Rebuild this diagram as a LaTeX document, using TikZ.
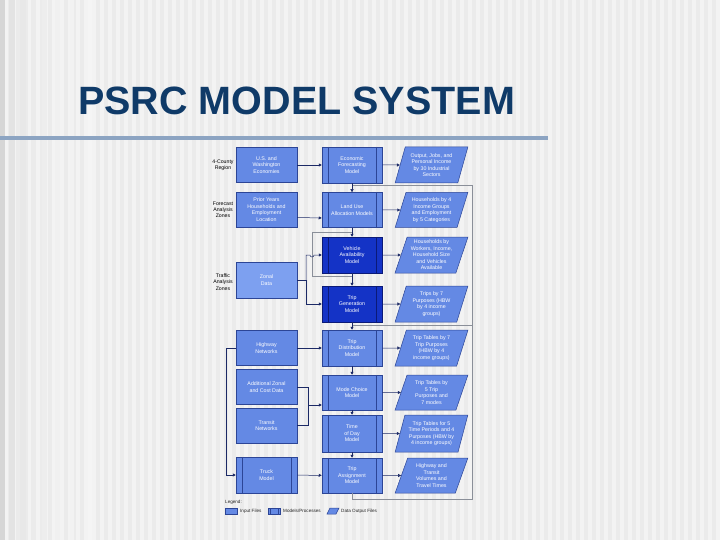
\documentclass[tikz,border=0pt]{standalone}
\usepackage{fontspec}
\setmainfont{Liberation Sans}
\usetikzlibrary{arrows.meta,shapes.geometric,calc}
\definecolor{bgbase}{HTML}{F3F3F3}
\definecolor{bgstripe}{HTML}{EBEBEB}
\definecolor{titleblue}{HTML}{0F3A68}
\definecolor{barblue}{HTML}{8CA4C2}
\definecolor{boxfill}{HTML}{6489E4}
\definecolor{boxline}{HTML}{2C4596}
\definecolor{darkfill}{HTML}{1433C6}
\definecolor{darkline}{HTML}{0B1A78}
\definecolor{zonalfill}{HTML}{7DA0F0}
\definecolor{arrowcol}{HTML}{1C2A66}
\definecolor{loopcol}{HTML}{8A8F99}
\begin{document}
\begin{tikzpicture}[x=1pt,y=-1pt,
  txt/.style={font=\fontsize{5.3}{6.5}\selectfont, text=white, align=center, inner sep=0pt},
  lbl/.style={font=\fontsize{5.2}{6.2}\selectfont, text=black, align=center, inner sep=0pt},
  leglbl/.style={font=\fontsize{4.6}{5.6}\selectfont, text=black!85, inner sep=0pt},
  inputbox/.style={txt, draw=boxline, fill=boxfill, line width=0.5pt, minimum width=61pt, minimum height=35pt},
  zonalbox/.style={inputbox, fill=zonalfill},
  modelbox/.style={inputbox, minimum width=60pt, minimum height=36pt,
    path picture={\draw[boxline, line width=0.5pt]
      ([xshift=6pt]path picture bounding box.north west) -- ([xshift=6pt]path picture bounding box.south west)
      ([xshift=-6pt]path picture bounding box.north east) -- ([xshift=-6pt]path picture bounding box.south east);}},
  darkmodel/.style={txt, draw=darkline, fill=darkfill, line width=0.5pt, minimum width=60pt, minimum height=36pt,
    path picture={\draw[darkline, line width=0.5pt]
      ([xshift=6pt]path picture bounding box.north west) -- ([xshift=6pt]path picture bounding box.south west)
      ([xshift=-6pt]path picture bounding box.north east) -- ([xshift=-6pt]path picture bounding box.south east);}},
  outbox/.style={txt, trapezium, trapezium left angle=71, trapezium right angle=109, trapezium stretches=true,
    draw=boxline, fill=boxfill, line width=0.5pt, minimum width=73pt, minimum height=36pt},
  arr/.style={draw=arrowcol, line width=0.5pt, -{Triangle[length=3pt,width=3pt]}},
  conn/.style={draw=arrowcol, line width=0.5pt},
  fb/.style={draw=loopcol, line width=0.5pt},
]
\useasboundingbox (0,0) rectangle (720,540);
% background
\fill[bgbase] (0,0) rectangle (720,540);
\foreach \i in {0,...,89} \fill[bgstripe] (8*\i,0) rectangle ++(4,540);
\fill[black!16] (0,0) rectangle (5,540);
\fill[black!11] (9,0) rectangle (15,540);
\fill[black!9] (20,0) rectangle (26,540);
\fill[black!8] (31,0) rectangle (36,540);
\fill[black!7] (42,0) rectangle (47,540);
\fill[black!6] (55,0) rectangle (60,540);
\fill[black!5] (70,0) rectangle (74,540);
\fill[black!4] (88,0) rectangle (92,540);
% title
\node[anchor=base west, inner sep=0pt, text=titleblue, font=\bfseries\fontsize{39.5}{40}\selectfont] (title) at (78,115) {PSRC MODEL SYSTEM};
\fill[barblue] (0,136) rectangle (548,140);

% left labels
\node[lbl] (l1) at (223,165) {4-County\\Region};
\node[lbl] (l2) at (223,210) {Forecast\\Analysis\\Zones};
\node[lbl] (l3) at (223,282) {Traffic\\Analysis\\Zones};

% inputs
\node[inputbox] (us) at (266.5,165) {U.S. and\\Washington\\Economies};
\node[inputbox] (prior) at (266.5,209.5) {Prior Years\\Households and\\Employment\\Location};
\node[zonalbox, minimum height=36pt] (zonal) at (266.5,280) {Zonal\\Data};
\node[inputbox] (hw) at (266.5,348) {Highway\\Networks};
\node[inputbox] (add) at (266.5,387) {Additional Zonal\\and Cost Data};
\node[inputbox] (transit) at (266.5,425.5) {Transit\\Networks};
\node[modelbox, minimum width=61pt] (truck) at (266.5,475) {Truck\\Model};

% models
\node[modelbox] (econ) at (352,165) {Economic\\Forecasting\\Model};
\node[modelbox, minimum height=35pt] (landuse) at (352,210) {Land Use\\Allocation Models};
\node[darkmodel] (va) at (352,255) {Vehicle\\Availability\\Model};
\node[darkmodel] (tgen) at (352,304) {Trip\\Generation\\Model};
\node[modelbox] (tdist) at (352,348) {Trip\\Distribution\\Model};
\node[modelbox, minimum height=35pt] (mode) at (352,392.5) {Mode Choice\\Model};
\node[modelbox, minimum height=37pt] (tod) at (352,433.5) {Time\\of Day\\Model};
\node[modelbox, minimum height=35pt] (tassign) at (352,475.5) {Trip\\Assignment\\Model};

% outputs
\node[outbox] (o1) at (431.5,165) {Output, Jobs, and\\Personal Income\\by 30 Industrial\\Sectors};
\node[outbox, minimum height=35pt] (o2) at (431.5,210) {Households by 4\\Income Groups\\and Employment\\by 5 Categories};
\node[outbox] (o3) at (431.5,255) {Households by\\Workers, Income,\\Household Size\\and Vehicles\\Available};
\node[outbox] (o4) at (431.5,304) {Trips by 7\\Purposes (HBW\\by 4 income\\groups)};
\node[outbox] (o5) at (431.5,348) {Trip Tables by 7\\Trip Purposes\\(HBW by 4\\income groups)};
\node[outbox, minimum height=35pt] (o6) at (431.5,392.5) {Trip Tables by\\5 Trip\\Purposes and\\7 modes};
\node[outbox, minimum height=37pt] (o7) at (431.5,433.5) {Trip Tables for 5\\Time Periods and 4\\Purposes (HBW by\\4 income groups)};
\node[outbox, minimum height=35pt] (o8) at (431.5,475.5) {Highway and\\Transit\\Volumes and\\Travel Times};

% feedback loop (gray)
\coordinate (f1) at (352,499);
\coordinate (f2) at (472,499);
\coordinate (f3) at (472,185);
\coordinate (f4) at (352,185);
\coordinate (f5) at (472,325);
\coordinate (f6) at (352,325);
\draw[fb] (tassign.south) -- (f1) -- (f2) -- (f3) -- (f4);
\draw[fb] (f5) -- (f6);

% bypass around vehicle availability
\coordinate (b1) at (352,232);
\coordinate (b2) at (312,232);
\coordinate (b3) at (312,276);
\coordinate (b4) at (352,276);
\draw[fb] (b1) -- (b2) -- (b3) -- (b4);

% model chain
\draw[arr] (econ) -- (landuse);
\draw[arr] (landuse) -- (va);
\draw[arr] (va) -- (tgen);
\draw[arr] (tgen) -- (tdist);
\draw[arr] (tdist) -- (mode);
\draw[arr] (mode) -- (tod);
\draw[arr] (tod) -- (tassign);

% models to outputs
\draw[arr] (econ) -- (o1);
\draw[arr] (landuse) -- (o2);
\draw[arr] (va) -- (o3);
\draw[arr] (tgen) -- (o4);
\draw[arr] (tdist) -- (o5);
\draw[arr] (mode) -- (o6);
\draw[arr] (tod) -- (o7);
\draw[arr] (tassign) -- (o8);

% inputs to models
\draw[arr] (us) -- (econ);
\draw[arr] ([yshift=-8pt]prior.east) -- ([yshift=-8pt]landuse.west);
\coordinate (zj) at (306,280);
\coordinate (zt) at (306,255);
\coordinate (zh) at (310,255);
\draw[conn] (zonal) -- (zj);
\draw[arr] (zj) -- (zt) -- (zh) arc (180:0:2) -- (va.west);
\draw[arr] (zj) |- (tgen.west);
\draw[arr] (hw) -- (tdist);
\coordinate (hl) at (226,348);
\draw[arr] (hw.west) -- (hl) |- (truck.west);
\coordinate (mj) at (308,405);
\draw[conn] (add.east) -| (mj);
\draw[conn] (transit.east) -| (mj);
\draw[arr] (mj) -- (mode.west |- mj);
\draw[arr] (truck) -- (tassign);

% legend
\node[leglbl, anchor=west] (leg) at (225,502) {Legend:};
\node[inputbox, minimum width=12pt, minimum height=6pt] (lg1) at (231,511) {};
\node[leglbl, anchor=west] (lt1) at (240,511) {Input Files};
\node[modelbox, minimum width=12pt, minimum height=6pt, path picture={\draw[boxline, line width=0.5pt]
      ([xshift=2pt]path picture bounding box.north west) -- ([xshift=2pt]path picture bounding box.south west)
      ([xshift=-2pt]path picture bounding box.north east) -- ([xshift=-2pt]path picture bounding box.south east);}] (lg2) at (274,511) {};
\node[leglbl, anchor=west] (lt2) at (283,511) {Models/Processes};
\draw[boxline, fill=boxfill, line width=0.5pt] (327,514) -- (330,508) -- (339,508) -- (336,514) -- cycle;
\node[leglbl, anchor=west] (lt3) at (341,511) {Data Output Files};
\end{tikzpicture}
\end{document}
